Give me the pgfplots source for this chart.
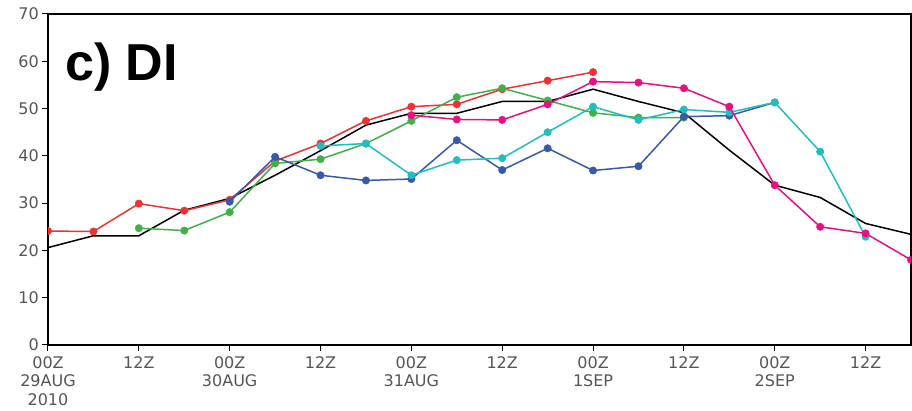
\documentclass[border=0pt]{standalone}
\usepackage{pgfplots}
\pgfplotsset{compat=1.18}
\usepackage{fontspec}
\setmainfont{DejaVu Sans}
\newfontfamily\titlefont{Liberation Sans}
\definecolor{tickgray}{RGB}{85,85,85}
\definecolor{cred}{RGB}{238,50,50}
\definecolor{cgreen}{RGB}{64,176,72}
\definecolor{cblue}{RGB}{56,88,168}
\definecolor{ccyan}{RGB}{32,190,192}
\definecolor{cmag}{RGB}{232,16,128}
\begin{document}
\begin{tikzpicture}
\begin{axis}[
  scale only axis,
  width=863pt, height=331pt,
  xmin=0, xmax=114, ymin=0, ymax=70,
  xtick={0,12,...,108},
  ytick={0,10,...,70},
  xticklabels={00Z\\29AUG\\2010,12Z,00Z\\30AUG,12Z,00Z\\31AUG,12Z,00Z\\1SEP,12Z,00Z\\2SEP,12Z},
  xticklabel style={align=center, font=\fontsize{16}{18.5}\selectfont, text=tickgray, inner sep=1pt, yshift=-4pt},
  yticklabel style={font=\fontsize{16}{18.5}\selectfont, text=tickgray, inner sep=3pt},
  /pgf/number format/assume math mode=true,
  tick align=outside,
  major tick length=6pt,
  tick style={black, line width=1pt},
  axis line style={black, line width=1.4pt},
  xtick pos=bottom, ytick pos=left,
  clip marker paths=true,
  every axis plot/.append style={line width=1.5pt},
]
% black (no marks)
\addplot[black, no marks] coordinates {
(0,20.6)(6,23.1)(12,23.1)(18,28.5)(24,31.0)(30,35.9)(36,41.1)(42,46.5)(48,49.0)(54,49.0)(60,51.5)(66,51.5)(72,54.1)(78,51.5)(84,49.1)(90,41.2)(96,33.8)(102,31.2)(108,25.7)(114,23.4)};
% red
\addplot[cred, mark=*, mark size=3.7pt, mark options={fill=cred, draw=cred, solid, line width=0.5pt}] coordinates {
(0,24.1)(6,24.0)(12,29.9)(18,28.4)(24,30.7)(30,38.9)(36,42.6)(42,47.4)(48,50.4)(54,50.9)(60,54.1)(66,55.9)(72,57.7)};
% green
\addplot[cgreen, mark=*, mark size=3.7pt, mark options={fill=cgreen, draw=cgreen, solid, line width=0.5pt}] coordinates {
(12,24.7)(18,24.2)(24,28.1)(30,38.4)(36,39.3)(42,42.6)(48,47.4)(54,52.4)(60,54.3)(66,51.7)(72,49.1)(78,48.1)(84,48.1)};
% blue
\addplot[cblue, mark=*, mark size=3.7pt, mark options={fill=cblue, draw=cblue, solid, line width=0.5pt}] coordinates {
(24,30.3)(30,39.8)(36,35.9)(42,34.8)(48,35.1)(54,43.3)(60,37.0)(66,41.6)(72,36.9)(78,37.8)(84,48.3)(90,48.5)(96,51.3)};
% cyan
\addplot[ccyan, mark=*, mark size=3.7pt, mark options={fill=ccyan, draw=ccyan, solid, line width=0.5pt}] coordinates {
(36,42.1)(42,42.6)(48,35.9)(54,39.1)(60,39.5)(66,45.0)(72,50.4)(78,47.6)(84,49.8)(90,49.2)(96,51.3)(102,40.9)(108,22.9)};
% magenta
\addplot[cmag, mark=*, mark size=3.7pt, mark options={fill=cmag, draw=cmag, solid, line width=0.5pt}] coordinates {
(48,48.6)(54,47.7)(60,47.6)(66,50.9)(72,55.7)(78,55.5)(84,54.3)(90,50.4)(96,33.8)(102,25.0)(108,23.6)(114,18.0)};
\node[anchor=base west, inner sep=0pt, font=\titlefont\bfseries\fontsize{52}{55}\selectfont] at (rel axis cs:0.0197,0.798) {c) DI};
\end{axis}
\pgfresetboundingbox
\path ([xshift=-48pt,yshift=14pt]current axis.north west) rectangle ([xshift=1pt,yshift=-66pt]current axis.south east);
\end{tikzpicture}
\end{document}
